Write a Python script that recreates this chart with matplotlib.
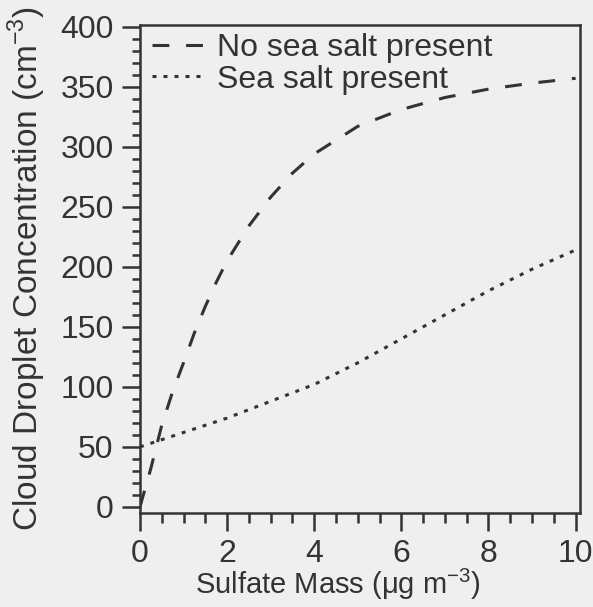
import matplotlib
matplotlib.use("Agg")
import matplotlib.pyplot as plt
from matplotlib.ticker import MultipleLocator

plt.rcParams['font.family'] = ['Liberation Sans', 'DejaVu Sans']
plt.rcParams['mathtext.fontset'] = 'custom'
plt.rcParams['mathtext.rm'] = 'Liberation Sans'

ink = '#333333'
paper = '#efefef'

# Sulfate mass (ug m-3) vs. droplet number (cm-3)
mass_no_salt = [0, 0.25, 0.5, 0.75, 1.0, 1.25, 1.5, 1.75, 2.0, 2.5, 3.0, 3.5,
                4.0, 5.0, 6.0, 7.0, 8.0, 9.0, 10.0]
drops_no_salt = [0, 32, 68, 96, 120, 145, 167, 187, 205, 234, 258, 278,
                 294, 317, 331, 341, 348, 353, 357]

mass_salt = [0, 0.5, 1, 2, 3, 4, 5, 6, 7, 8, 9, 10]
drops_salt = [50, 56, 62, 74, 88, 102, 120, 140, 160, 180, 198, 214]

fig = plt.figure(figsize=(5.93, 6.07), dpi=100, facecolor=paper)
ax = fig.add_axes([0.236, 0.155, 0.742, 0.804], facecolor=paper)

ax.plot(mass_no_salt, drops_no_salt, color=ink, lw=2.2, dashes=(5.5, 5.5),
        label='No sea salt present')
ax.plot(mass_salt, drops_salt, color=ink, lw=2.2, dashes=(1.3, 2.3),
        label='Sea salt present')

ax.set_xlim(0, 10.1)
ax.set_ylim(-5, 401.5)
ax.xaxis.set_major_locator(MultipleLocator(2))
ax.xaxis.set_minor_locator(MultipleLocator(0.5))
ax.yaxis.set_major_locator(MultipleLocator(50))
ax.yaxis.set_minor_locator(MultipleLocator(10))

for s in ax.spines.values():
    s.set_linewidth(1.8)
    s.set_color(ink)

ax.tick_params(which='major', direction='out', length=13, width=1.8,
               color=ink, labelcolor=ink, labelsize=23)
ax.tick_params(axis='y', which='major', pad=6)
ax.tick_params(axis='x', which='major', pad=6)
ax.tick_params(which='minor', direction='out', length=6, width=1.8, color=ink)
ax.tick_params(axis='x', which='minor', length=7)

ax.set_xlabel('Sulfate Mass (\u03bcg m$^{\\mathregular{-3}}$)', fontsize=21,
              color=ink)
ax.xaxis.set_label_coords(0.45, -0.111)
ax.set_ylabel('Cloud Droplet Concentration (cm$^{\\mathregular{-3}}$)',
              fontsize=24, color=ink, labelpad=9)

leg = ax.legend(loc='upper left', bbox_to_anchor=(0.02, 0.99), frameon=False,
                fontsize=23, handlelength=1.6, handletextpad=0.45,
                labelspacing=0.05, borderpad=0.1, borderaxespad=0)
for t in leg.get_texts():
    t.set_color(ink)

fig.savefig('out.png', dpi=100, facecolor=paper)
